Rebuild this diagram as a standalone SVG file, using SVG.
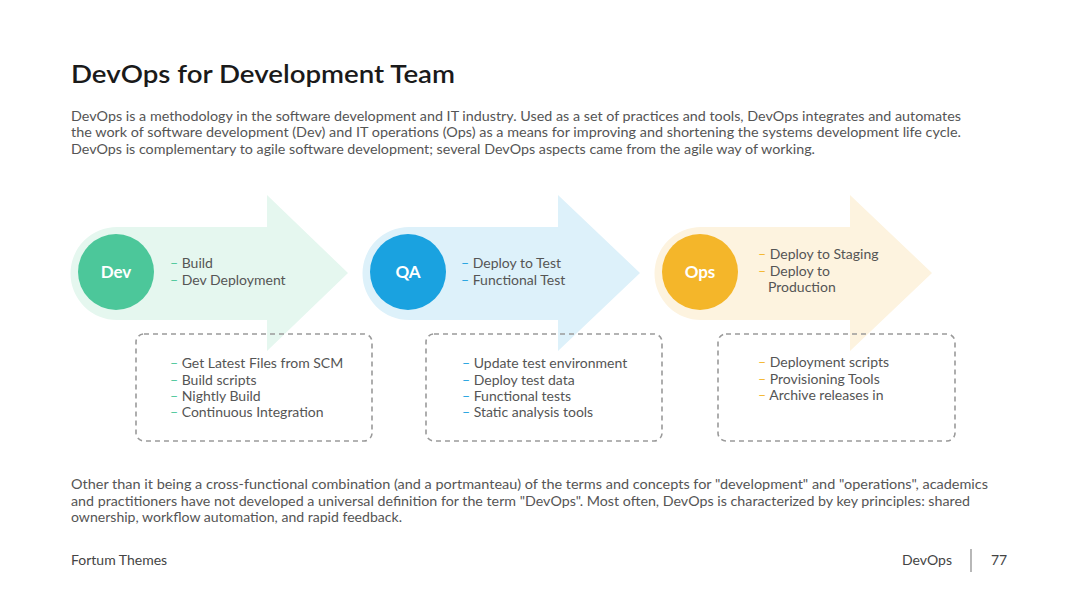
<svg xmlns="http://www.w3.org/2000/svg" width="1080" height="608" viewBox="0 0 1080 608">
<style>
text{font-family:Lato,"Open Sans","Liberation Sans",sans-serif;fill:#555;font-size:14px}
.p{font-size:13px}
.title{font-size:24px;fill:#1a1a1a;font-weight:600}
.lbl{font-size:17px;font-weight:700;fill:#fff;text-anchor:middle}
.box{fill:none;stroke:#9a9a9a;stroke-width:1.6;stroke-dasharray:5 4}
.g{fill:#4CC79A}.b{fill:#1AA2E0}.o{fill:#F4B62A}
.ft{font-size:14px;fill:#444}
</style>
<rect width="1080" height="608" fill="#fff"/>
<text class="title" x="71" y="83" textLength="384" lengthAdjust="spacingAndGlyphs">DevOps for Development Team</text>
<text class="p" x="71" y="121" textLength="890" lengthAdjust="spacingAndGlyphs">DevOps is a methodology in the software development and IT industry. Used as a set of practices and tools, DevOps integrates and automates</text>
<text class="p" x="71" y="137" textLength="890" lengthAdjust="spacingAndGlyphs">the work of software development (Dev) and IT operations (Ops) as a means for improving and shortening the systems development life cycle.</text>
<text class="p" x="71" y="154" textLength="744" lengthAdjust="spacingAndGlyphs">DevOps is complementary to agile software development; several DevOps aspects came from the agile way of working.</text>

<g id="dev">
<path d="M117,227 H267 V195 L348,273 L267,351 V320 H117 A46.5,46.5 0 0 1 117,227 Z" fill="#E5F7EF"/>
<circle cx="116" cy="272" r="38" fill="#4CC79A"/>
<text class="lbl" x="116" y="278">Dev</text>
<text x="170" y="268"><tspan class="g">–</tspan> Build</text>
<text x="170" y="285"><tspan class="g">–</tspan> Dev Deployment</text>
</g>
<g id="qa">
<path d="M409,227 H558 V195 L640,273 L558,351 V320 H409 A46.5,46.5 0 0 1 409,227 Z" fill="#DDF1FA"/>
<circle cx="408" cy="272" r="38" fill="#1AA2E0"/>
<text class="lbl" x="408" y="278">QA</text>
<text x="461" y="268"><tspan class="b">–</tspan> Deploy to Test</text>
<text x="461" y="285"><tspan class="b">–</tspan> Functional Test</text>
</g>
<g id="ops">
<path d="M701,227 H850 V195 L932,273 L850,351 V320 H701 A46.5,46.5 0 0 1 701,227 Z" fill="#FDF3DF"/>
<circle cx="700" cy="272" r="38" fill="#F4B62A"/>
<text class="lbl" x="700" y="278">Ops</text>
<text x="758" y="259"><tspan class="o">–</tspan> Deploy to Staging</text>
<text x="758" y="276"><tspan class="o">–</tspan> Deploy to</text>
<text x="768" y="292">Production</text>
</g>

<g id="dev-box">
<rect class="box" x="136" y="334" width="236" height="107" rx="8"/>
<text x="170" y="368"><tspan class="g">–</tspan> Get Latest Files from SCM</text>
<text x="170" y="385"><tspan class="g">–</tspan> Build scripts</text>
<text x="170" y="401"><tspan class="g">–</tspan> Nightly Build</text>
<text x="170" y="417"><tspan class="g">–</tspan> Continuous Integration</text>
</g>
<g id="qa-box">
<rect class="box" x="426" y="334" width="236" height="107" rx="8"/>
<text x="462" y="368"><tspan class="b">–</tspan> Update test environment</text>
<text x="462" y="385"><tspan class="b">–</tspan> Deploy test data</text>
<text x="462" y="401"><tspan class="b">–</tspan> Functional tests</text>
<text x="462" y="417"><tspan class="b">–</tspan> Static analysis tools</text>
</g>
<g id="ops-box">
<rect class="box" x="718" y="334" width="237" height="107" rx="8"/>
<text x="758" y="367"><tspan class="o">–</tspan> Deployment scripts</text>
<text x="758" y="384"><tspan class="o">–</tspan> Provisioning Tools</text>
<text x="758" y="400"><tspan class="o">–</tspan> Archive releases in</text>
</g>
<g id="connectors"></g>

<text class="p" x="71" y="489" textLength="917" lengthAdjust="spacingAndGlyphs">Other than it being a cross-functional combination (and a portmanteau) of the terms and concepts for "development" and "operations", academics</text>
<text class="p" x="71" y="506" textLength="899" lengthAdjust="spacingAndGlyphs">and practitioners have not developed a universal definition for the term "DevOps". Most often, DevOps is characterized by key principles: shared</text>
<text class="p" x="71" y="522" textLength="331" lengthAdjust="spacingAndGlyphs">ownership, workflow automation, and rapid feedback.</text>

<text class="ft" x="71" y="565">Fortum Themes</text>
<text class="ft" x="952" y="565" text-anchor="end">DevOps</text>
<line x1="971" y1="549" x2="971" y2="572" stroke="#888" stroke-width="1.2"/>
<text class="ft" x="991" y="565">77</text>
</svg>
